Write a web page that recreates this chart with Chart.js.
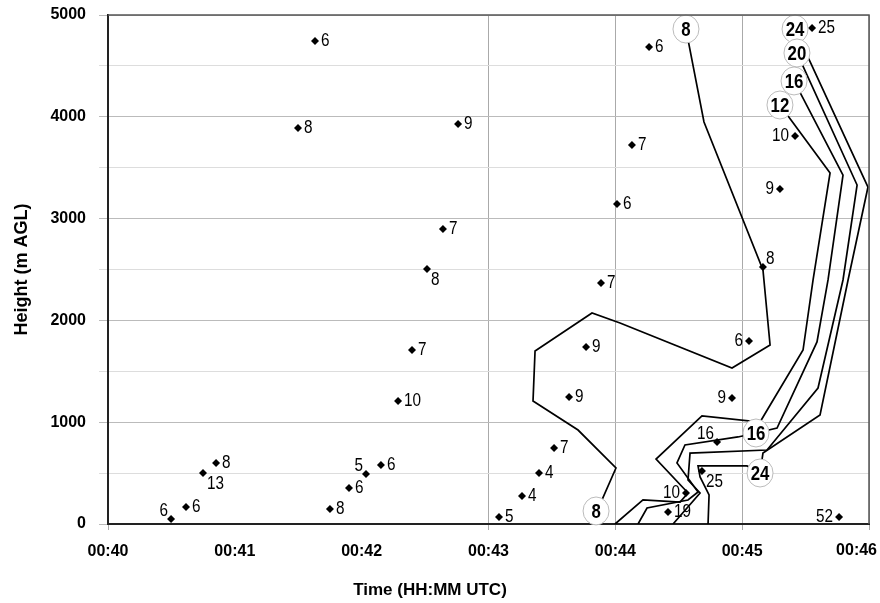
<!DOCTYPE html>
<html>
<head>
<meta charset="utf-8">
<script src="https://cdn.jsdelivr.net/npm/chart.js@4.4.1/dist/chart.umd.min.js"></script>
<style>
  html, body { margin: 0; padding: 0; background: #fff; }
  #wrap { width: 880px; height: 603px; }
</style>
</head>
<body>
<div id="wrap"><canvas id="contourChart"></canvas></div>
<script>
// x values are minutes after 00:40 UTC, y values are metres AGL
var pointX = [1.632, 1.498, 2.760, 2.641, 2.515, 2.397, 2.287, 0.852, 0.749, 0.615, 0.497, 1.750,
              2.152, 2.034, 1.900, 3.083, 3.264, 3.398, 3.517, 3.635, 3.769, 3.887, 4.266, 4.131,
              4.013, 5.164, 5.298, 5.417, 5.551, 5.054, 4.920, 4.802, 4.683, 4.557, 4.415, 5.764];
var pointY = [4745, 3890, 3929, 2898, 2505, 1709, 1208, 599, 501, 167, 49, 147,
              580, 491, 354, 69, 275, 501, 747, 1248, 1739, 2367, 4686, 3723,
              3143, 2525, 3291, 3811, 4872, 1798, 1238, 805, 521, 305, 118, 69];
var pointVal = [6, 8, 9, 7, 8, 7, 10, 8, 13, 6, 6, 8,
                6, 5, 6, 5, 4, 4, 7, 9, 9, 7, 6, 7,
                6, 8, 9, 10, 25, 6, 9, 16, 25, 10, 19, 52];
// where each value label sits next to its diamond
var labelSide = ['r', 'r', 'r', 'r', 'br', 'r', 'r', 'r', 'br', 'r', 'al', 'r',
                 'r', 'al', 'r', 'r', 'r', 'r', 'r', 'r', 'r', 'r', 'r', 'r',
                 'r', 'ar', 'l', 'l', 'r', 'l', 'l', 'al', 'br', 'l', 'r', 'l'];

// contour lines
var c8x  = [4.557, 4.699, 5.164, 5.220, 4.920, 4.037, 3.816, 3.367, 3.351, 3.706, 4.005, 3.887, 3.848, 3.816];
var c8y  = [4862, 3949, 2495, 1758, 1532, 1974, 2073, 1699, 1208, 923, 550, 216, 128, 0];
var c12x = [5.298, 5.693, 5.559, 5.480, 5.141, 4.683, 4.321, 4.573, 4.510, 4.218, 3.998];
var c12y = [4116, 3448, 2397, 1709, 1002, 1061, 638, 305, 216, 236, 0];
var c16x = [5.409, 5.795, 5.677, 5.590, 5.275, 5.109, 4.967, 4.549, 4.486, 4.652, 4.573, 4.250, 4.179];
var c16y = [4352, 3428, 2397, 1788, 943, 894, 855, 776, 599, 314, 236, 157, 0];
var c20x = [5.432, 5.906, 5.795, 5.598, 5.196, 4.589, 4.573, 4.668, 4.455];
var c20y = [4627, 3330, 2397, 1336, 727, 697, 432, 305, 0];
var c24x = [5.417, 5.992, 5.835, 5.614, 5.164, 5.141, 5.038, 4.652, 4.668, 4.739, 4.731];
var c24y = [4862, 3310, 2397, 1071, 697, 501, 570, 570, 462, 285, 0];

// circled contour labels
var contourLabelText = ['8', '24', '20', '16', '12', '16', '24', '8'];
var contourLabelX = [4.557, 5.417, 5.432, 5.409, 5.298, 5.109, 5.141, 3.848];
var contourLabelY = [4862, 4862, 4627, 4352, 4116, 894, 501, 128];

var xTicks = [0, 1, 2, 3, 4, 5, 6];

function pairs(xs, ys) {
    return xs.map(function (x, i) { return { x: x, y: ys[i] }; });
}

var sans = '"Liberation Sans", Arial, sans-serif';

function tickText(v) { return '00:' + (40 + v); }

function contourSet(xs, ys) {
    return {
        type: 'line',
        data: pairs(xs, ys),
        borderColor: '#000',
        borderWidth: 1.7,
        pointRadius: 0,
        tension: 0,
        fill: false,
        order: 2
    };
}

// text squeezed sideways, the picture's fonts are condensed
function narrowText(ctx, t, x, y, squeeze) {
    ctx.save();
    ctx.translate(x, y);
    ctx.scale(squeeze, 1);
    ctx.fillText(t, 0, 0);
    ctx.restore();
}

// value labels, circled contour labels, frame and axis titles
var annotate = {
    id: 'annotate',
    afterDatasetsDraw: function (chart) {
        var ctx = chart.ctx;
        var xs = chart.scales.x, ys = chart.scales.y;
        var a = chart.chartArea;
        ctx.save();

        ctx.fillStyle = '#000';
        ctx.font = '18px ' + sans;
        ctx.textBaseline = 'middle';
        pointX.forEach(function (v, i) {
            var px = xs.getPixelForValue(v), py = ys.getPixelForValue(pointY[i]);
            var side = labelSide[i];
            var tx = px, ty = py;
            if (side === 'r') { ctx.textAlign = 'left'; tx = px + 6; }
            else if (side === 'l') { ctx.textAlign = 'right'; tx = px - 6; }
            else if (side === 'br') { ctx.textAlign = 'left'; tx = px + 4; ty = py + 11; }
            else if (side === 'al') { ctx.textAlign = 'right'; tx = px - 3; ty = py - 8; }
            else if (side === 'ar') { ctx.textAlign = 'left'; tx = px + 3; ty = py - 8; }
            narrowText(ctx, String(pointVal[i]), tx, ty, 0.85);
        });

        ctx.font = 'bold 21px ' + sans;
        ctx.textAlign = 'center';
        contourLabelText.forEach(function (t, i) {
            var px = xs.getPixelForValue(contourLabelX[i]), py = ys.getPixelForValue(contourLabelY[i]);
            ctx.beginPath();
            ctx.ellipse(px, py, 13, 14, 0, 0, Math.PI * 2);
            ctx.fillStyle = '#fff';
            ctx.fill();
            ctx.strokeStyle = '#bbb';
            ctx.lineWidth = 1;
            ctx.stroke();
            ctx.fillStyle = '#000';
            narrowText(ctx, t, px, py + 1, 0.8);
        });

        // top and right frame
        ctx.strokeStyle = '#555';
        ctx.lineWidth = 1.5;
        ctx.beginPath();
        ctx.moveTo(a.left, a.top);
        ctx.lineTo(a.right, a.top);
        ctx.lineTo(a.right, a.bottom);
        ctx.stroke();

        // last x tick label is pulled in so it stays on the canvas
        ctx.fillStyle = '#000';
        ctx.font = 'bold 16px ' + sans;
        ctx.textAlign = 'right';
        ctx.fillText(tickText(xTicks[xTicks.length - 1]), 877, 551);

        // axis titles
        ctx.font = 'bold 17px ' + sans;
        ctx.textAlign = 'center';
        ctx.fillText('Time (HH:MM UTC)', 430, 590);
        ctx.font = 'bold 18px ' + sans;
        ctx.translate(22, (a.top + a.bottom) / 2);
        ctx.rotate(-Math.PI / 2);
        ctx.fillText('Height (m AGL)', 0, 0);
        ctx.restore();
    }
};

var ctx = document.getElementById('contourChart').getContext('2d');
var contourChart = new Chart(ctx, {
    type: 'scatter',
    data: {
        datasets: [
            {
                label: 'Points',
                data: pairs(pointX, pointY),
                pointStyle: 'rectRot',
                pointRadius: 4,
                backgroundColor: '#000',
                borderColor: '#000',
                borderWidth: 0,
                order: 1
            },
            contourSet(c8x, c8y),
            contourSet(c12x, c12y),
            contourSet(c16x, c16y),
            contourSet(c20x, c20y),
            contourSet(c24x, c24y)
        ]
    },
    options: {
        responsive: true,
        maintainAspectRatio: false,
        animation: false,
        layout: { padding: { top: 15, right: 11, left: 0, bottom: 0 } },
        scales: {
            x: {
                type: 'linear',
                min: 0,
                max: 6,
                afterBuildTicks: function (scale) {
                    scale.ticks = xTicks.map(function (v) { return { value: v }; });
                },
                afterFit: function (scale) {
                    scale.height = 79;
                    scale.paddingLeft = 0;
                    scale.paddingRight = 0;
                },
                grid: {
                    color: function (c) {
                        var v = c.tick ? c.tick.value : 0;
                        return (v === 1 || v === 2) ? 'rgba(0,0,0,0)' : '#aaa';
                    },
                    tickLength: 6,
                    lineWidth: 1
                },
                border: { color: '#222', width: 2 },
                ticks: {
                    padding: 12,
                    color: '#000',
                    font: { family: sans, size: 16, weight: 'bold' },
                    maxRotation: 0,
                    callback: function (v) { return v === xTicks[xTicks.length - 1] ? '' : tickText(v); }
                }
            },
            y: {
                min: 0,
                max: 5000,
                afterFit: function (scale) {
                    scale.width = 108;
                    scale.paddingTop = 0;
                    scale.paddingBottom = 0;
                },
                grid: {
                    color: function (c) {
                        var v = c.tick ? c.tick.value : 0;
                        return v % 1000 === 0 ? '#bbb' : '#ddd';
                    },
                    tickLength: 9,
                    lineWidth: 1
                },
                border: { color: '#222', width: 2 },
                ticks: {
                    stepSize: 500,
                    padding: 13,
                    color: '#000',
                    font: { family: sans, size: 16, weight: 'bold' },
                    callback: function (v) { return v % 1000 === 0 ? String(v) : ''; }
                }
            }
        },
        plugins: {
            legend: { display: false },
            tooltip: { enabled: false }
        }
    },
    plugins: [annotate]
});
</script>
</body>
</html>
